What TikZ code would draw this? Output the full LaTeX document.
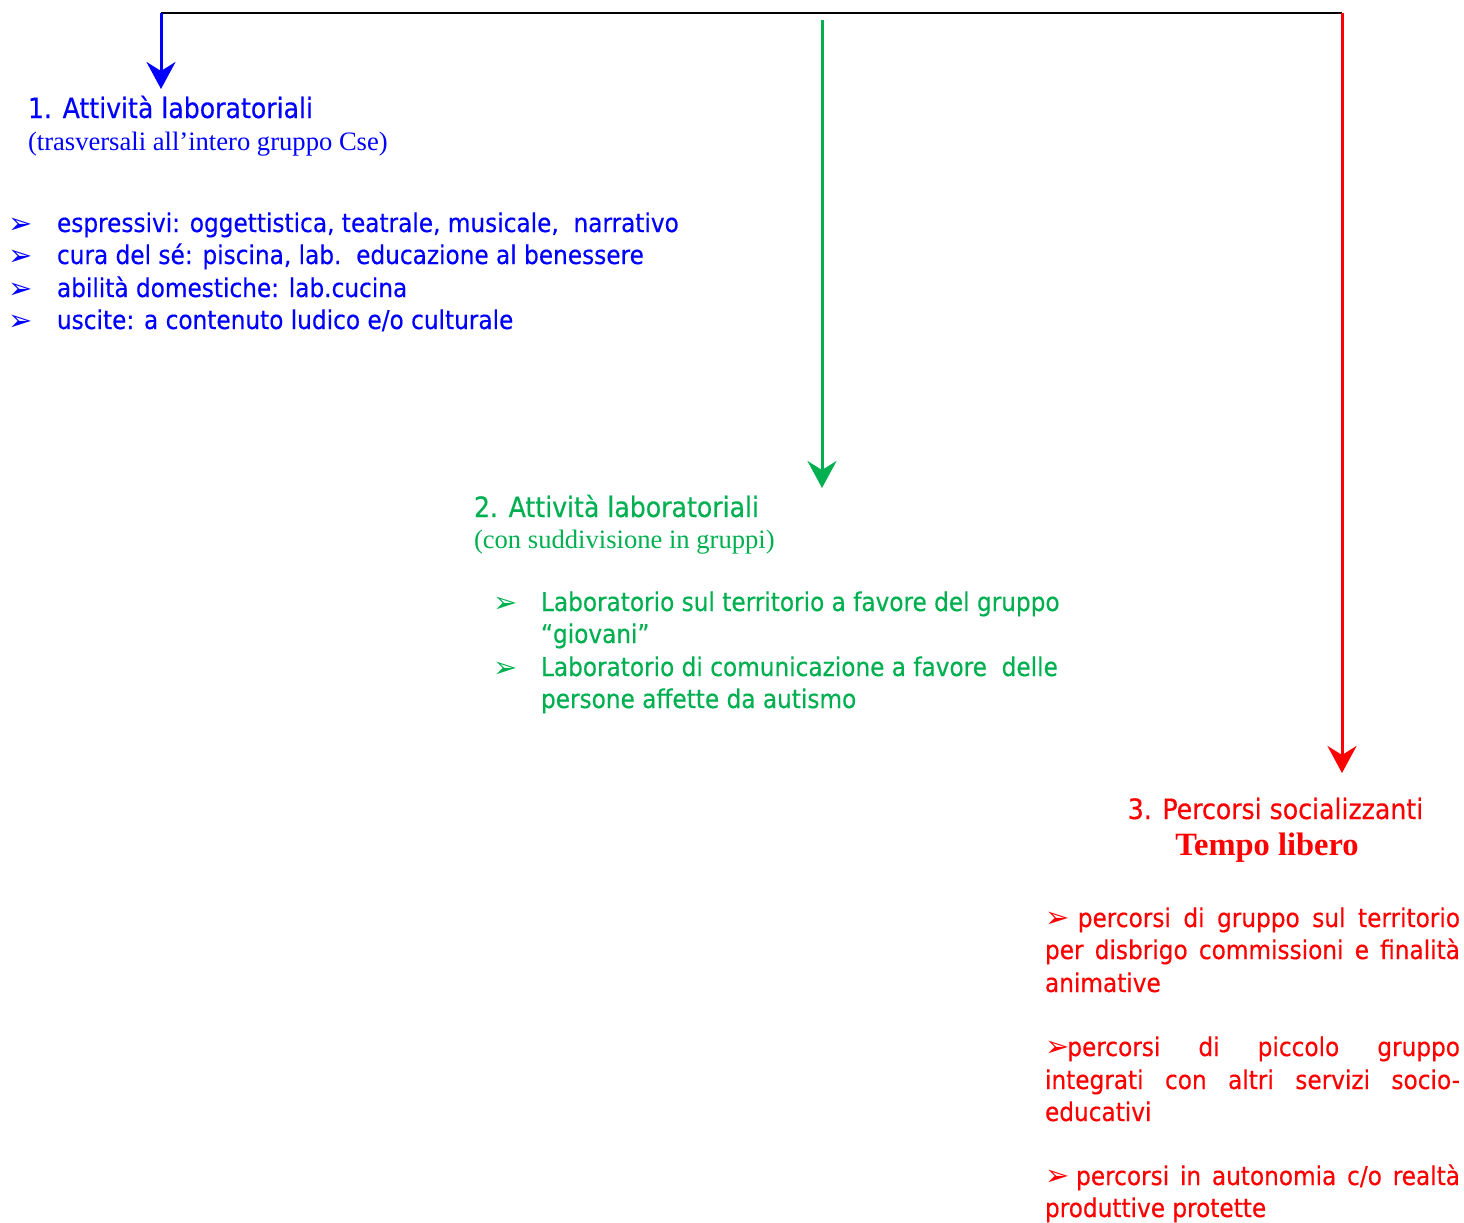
\documentclass[tikz,border=0pt]{standalone}
\usepackage{fontspec}
\setmainfont{Liberation Serif}
\newfontfamily\tah[FakeBold=0.4]{DejaVu Sans Condensed}
\newfontfamily\dingf{DejaVu Sans}
\usetikzlibrary{arrows.meta}
\definecolor{cblue}{RGB}{0,0,255}
\definecolor{cgreen}{RGB}{0,176,80}
\definecolor{cred}{RGB}{255,0,0}
\tikzset{
  txt/.style={anchor=base west, inner sep=0pt, outer sep=0pt},
  head/.style={txt, font=\tah\fontsize{28}{32}\selectfont},
  sub/.style={txt, font=\fontsize{26.6}{30}\selectfont},
  body/.style={txt, font=\tah\fontsize{25.8}{32}\selectfont},
  bul/.style={txt, font=\dingf\fontsize{29}{32}\selectfont},
  conn/.style={line width=3pt, -{Stealth[length=27pt,width=29pt,inset=9pt]}},
}
\newcommand{\bl}{{\dingf\fontsize{29}{32}\selectfont ➢}}
\begin{document}
\begin{tikzpicture}[x=1pt,y=-1pt]
\useasboundingbox (0,0) rectangle (1464,1223);
% bus and connectors
\coordinate (bL) at (161,13);
\coordinate (bR) at (1342,13);
\coordinate (gS) at (822,20);
\coordinate (aB) at (161,89);
\coordinate (aG) at (822,488);
\coordinate (aR) at (1342,773);
\draw[line width=2.2pt, black] (bL) -- (bR);
\draw[conn, cblue] (bL) -- (aB);
\draw[conn, cgreen] (gS) -- (aG);
\draw[conn, cred] (bR) -- (aR);
% block 1
\node[head, text=cblue] (h1) at (28,118) {1. Attività laboratoriali};
\node[sub, text=cblue] (s1) at (28,150) {(trasversali all’intero gruppo Cse)};
\node[bul, text=cblue] (p1) at (9,233) {➢};
\node[bul, text=cblue] (p2) at (9,265) {➢};
\node[bul, text=cblue] (p3) at (9,298) {➢};
\node[bul, text=cblue] (p4) at (9,330) {➢};
\node[body, text=cblue] (t1) at (57,232) {espressivi: oggettistica, teatrale, musicale,\ \ narrativo};
\node[body, text=cblue] (t2) at (57,264) {cura del sé: piscina, lab.\ \ educazione al benessere};
\node[body, text=cblue] (t3) at (57,297) {abilità domestiche: lab.cucina};
\node[body, text=cblue] (t4) at (57,329) {uscite: a contenuto ludico e/o culturale};
% block 2
\node[head, text=cgreen] (h2) at (474,517) {2. Attività laboratoriali};
\node[sub, text=cgreen] (s2) at (474,548) {(con suddivisione in gruppi)};
\node[bul, text=cgreen] (q1) at (493,612) {➢};
\node[bul, text=cgreen] (q2) at (493,677) {➢};
\node[body, text=cgreen] (u1) at (541,611) {Laboratorio sul territorio a favore del gruppo};
\node[body, text=cgreen] (u2) at (541,643) {“giovani”};
\node[body, text=cgreen] (u3) at (541,676) {Laboratorio di comunicazione a favore\ \ delle};
\node[body, text=cgreen] (u4) at (541,708) {persone affette da autismo};
% block 3
\node[head, text=cred, anchor=base] (h3) at (1275.5,819) {3. Percorsi socializzanti};
\node[txt, anchor=base, text=cred, font=\bfseries\fontsize{32.5}{36}\selectfont] (s3) at (1267,855) {Tempo libero};
\node[body, text=cred] (r1) at (1045,927) {\makebox[415pt][s]{\bl\hspace{-4pt} percorsi di gruppo sul territorio}};
\node[body, text=cred] (r2) at (1045,959) {\makebox[415pt][s]{per disbrigo commissioni e finalità}};
\node[body, text=cred] (r3) at (1045,992) {animative};
\node[body, text=cred] (r4) at (1045,1056) {\makebox[415pt][s]{\bl\hspace{-2pt}percorsi di piccolo gruppo}};
\node[body, text=cred] (r5) at (1045,1089) {\makebox[415pt][s]{integrati con altri servizi socio-}};
\node[body, text=cred] (r6) at (1045,1121) {educativi};
\node[body, text=cred] (r7) at (1045,1185) {\makebox[415pt][s]{\bl\hspace{-4pt} percorsi in autonomia c/o realtà}};
\node[body, text=cred] (r8) at (1045,1217) {produttive protette};
\end{tikzpicture}
\end{document}
